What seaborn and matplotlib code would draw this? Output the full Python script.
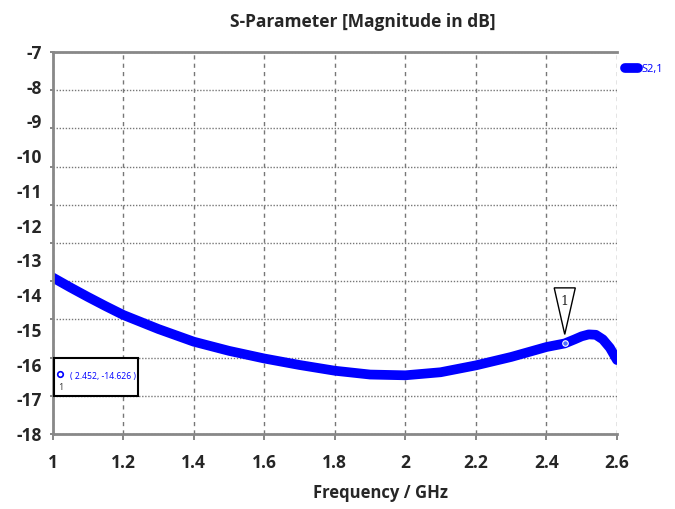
import numpy as np
import matplotlib
matplotlib.use("Agg")
import matplotlib.pyplot as plt
import matplotlib.transforms as mtransforms
from matplotlib.patches import Polygon, Rectangle
import seaborn as sns

# data ------------------------------------------------------------
freq = [1.0, 1.05, 1.1, 1.15, 1.2, 1.3, 1.4, 1.5, 1.6, 1.7, 1.8, 1.9, 2.0, 2.1, 2.2,
        2.3, 2.4, 2.452, 2.48, 2.5, 2.52, 2.54, 2.56, 2.58, 2.6]
s21 = [-12.90, -13.16, -13.41, -13.65, -13.88, -14.25, -14.58, -14.82, -15.02, -15.19,
       -15.34, -15.44, -15.46, -15.38, -15.20, -14.98, -14.72, -14.626,
       -14.52, -14.44, -14.39, -14.40, -14.52, -14.74, -15.06]
x_ticks = [1.0, 1.2, 1.4, 1.6, 1.8, 2.0, 2.2, 2.4, 2.6]
x_labels = ["1", "1.2", "1.4", "1.6", "1.8", "2", "2.2", "2.4", "2.6"]
y_grid = [-7, -8, -9, -10, -11, -12, -13, -14, -15, -16, -17]
y_labels = ["-7", "-8", "-9", "-10", "-11", "-12", "-13", "-14", "-15",
            "-16", "-17", "-18"]
marker_f = 2.452
marker_v = -14.626
series_name = "S2,1"

sns.set_theme(style="white")
plt.rcParams['font.family'] = ['Liberation Sans Narrow', 'Open Sans', 'DejaVu Sans']

fig = plt.figure(figsize=(6.75, 5.09), dpi=100)
ax = fig.add_axes([0.078, 0.147, 0.836, 0.751])

sns.lineplot(x=freq, y=s21, color="blue", linewidth=7, ax=ax,
             label=series_name, solid_capstyle="round")

ax.set_xlim(1.0, 2.6)
ax.set_ylim(-17, -7)

# grid: vertical dashed, horizontal dotted
ax.set_xticks(x_ticks, x_labels)
ax.set_yticks(y_grid, [""] * len(y_grid))
ax.grid(False)
for xv in x_ticks:
    ax.axvline(xv, color="#777777", lw=1, ls=(0, (3, 3)), zorder=0)
for yv in y_grid:
    ax.axhline(yv, color="#777777", lw=1, ls=(0, (1, 1.2)), zorder=0)

# y labels spaced evenly over the axis as in the original screenshot
ax.yaxis.remove_overlapping_locs = False
ax.set_yticks(np.linspace(-7, -17, len(y_labels)), y_labels, minor=True)
ax.tick_params(axis="y", which="minor", length=0, pad=8, labelsize=12.5)
ax.tick_params(axis="y", which="major", length=2, color="#777777", direction="out", left=True)
ax.tick_params(axis="x", which="major", length=4, color="#777777", direction="out",
               bottom=True, labelsize=12.5, pad=10)
for lab in ax.get_xticklabels() + ax.get_yticklabels(minor=True):
    lab.set_fontweight("bold")

for s in ("top", "left", "bottom"):
    ax.spines[s].set_color("#888888")
    ax.spines[s].set_linewidth(2)
ax.spines["right"].set_visible(False)

# marker on curve
ax.plot([marker_f], [marker_v], "o", ms=4, mfc="#5070ff", mec="white", mew=0.8, zorder=5)
tr = (mtransforms.Affine2D().scale(1 / 72) + fig.dpi_scale_trans +
      mtransforms.ScaledTranslation(marker_f, marker_v, ax.transData))
ax.add_patch(Polygon([(-7.6, 40), (7.6, 40), (0, 6.5)], closed=True, fc="white",
                     ec="black", lw=1, transform=tr, zorder=6, clip_on=False))
ax.text(0, 30, "1", transform=tr, ha="center", va="center", fontsize=9,
        family="DejaVu Serif", zorder=7)

# marker readout box
ax.add_patch(Rectangle((0.002, 0.1), 0.149, 0.1, transform=ax.transAxes,
                       fc="white", ec="black", lw=1.5, zorder=6))
ax.plot([0.013], [0.158], "o", ms=4, mfc="white", mec="blue", mew=1.2,
        transform=ax.transAxes, zorder=7)
ax.text(0.015, 0.122, "1", transform=ax.transAxes, fontsize=6.5, ha="center",
        va="center", color="#333333", zorder=7)
ax.text(0.089, 0.15, f"( {marker_f}, {marker_v} )", transform=ax.transAxes,
        fontsize=6.2, color="blue", ha="center", va="center", zorder=7)

ax.set_xlabel("")
ax.set_ylabel("")
fig.text(0.538, 0.957, "S-Parameter [Magnitude in dB]", ha="center", va="center",
         fontsize=12.5, fontweight="bold")
fig.text(0.563, 0.031, "Frequency / GHz", ha="center", va="center",
         fontsize=12, fontweight="bold")

leg = ax.legend(loc="upper left", bbox_to_anchor=(1.0, 0.99), frameon=False,
                handlelength=1.2, handletextpad=0.3, fontsize=8, labelcolor="blue",
                borderaxespad=0.3)

fig.savefig("out.png", dpi=100)
